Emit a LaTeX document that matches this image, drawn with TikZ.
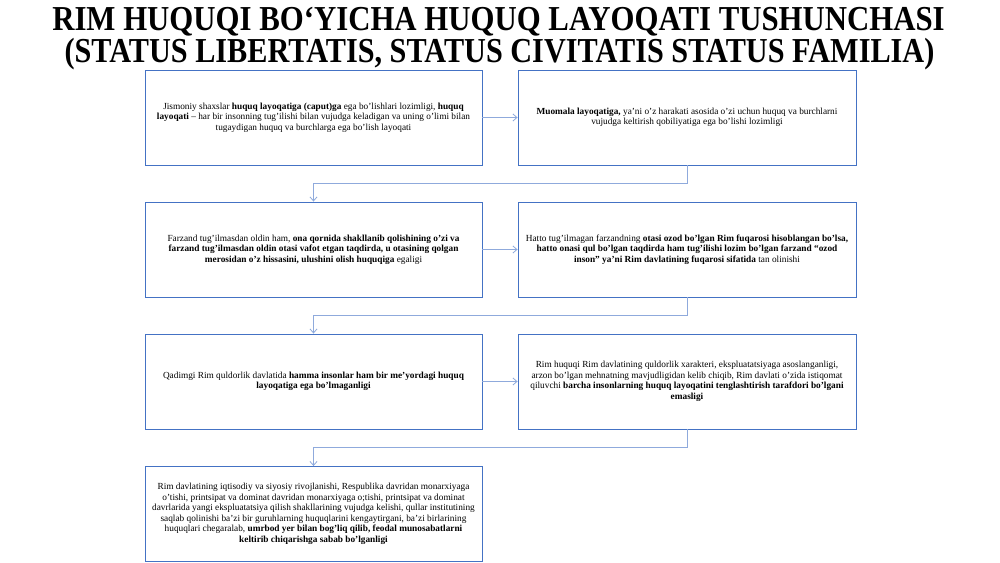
\documentclass[tikz,border=0pt]{standalone}
\usepackage{fontspec}
\setmainfont{Liberation Serif}
\usetikzlibrary{arrows.meta}
\definecolor{boxblue}{HTML}{4472C4}
\definecolor{connblue}{HTML}{8FAADC}
\begin{document}
\begin{tikzpicture}[x=1pt,y=-1pt,
  box/.style={draw=boxblue, line width=0.9pt, minimum width=337pt, minimum height=95pt,
    inner sep=0pt, align=center, font=\fontsize{9.3}{10.5}\selectfont},
  rbox/.style={box, minimum width=338pt},
  conn/.style={draw=connblue, line width=0.8pt, -{Straight Barb[length=4pt,width=7pt]}},
  ttl/.style={font=\fontsize{35}{35}\bfseries\selectfont, inner sep=0pt, anchor=base}]
\useasboundingbox[fill=white] (0,0) rectangle (1000,562);

\node[ttl] (t1) at (498.5,30) {\scalebox{0.88}[1]{RIM HUQUQI BO‘YICHA HUQUQ LAYOQATI TUSHUNCHASI}};
\node[ttl] (t2) at (499.5,62.5) {\scalebox{0.864}[1]{(STATUS LIBERTATIS, STATUS CIVITATIS STATUS FAMILIA)}};

\node[box] (a1) at (313.5,117.5) {Jismoniy shaxslar \textbf{huquq layoqatiga (caput)ga} ega bo’lishlari lozimligi, \textbf{huquq}\\
\textbf{layoqati} – har bir insonning tug’ilishi bilan vujudga keladigan va uning o’limi bilan\\
tugaydigan huquq va burchlarga ega bo’lish layoqati};
\node[rbox] (b1) at (687,117.5) {\textbf{Muomala layoqatiga,} ya’ni o’z harakati asosida o’zi uchun huquq va burchlarni\\
vujudga keltirish qobiliyatiga ega bo’lishi lozimligi};

\node[box] (a2) at (313.5,249.5) {Farzand tug’ilmasdan oldin ham, \textbf{ona qornida shakllanib qolishining o’zi va}\\
\textbf{farzand tug’ilmasdan oldin otasi vafot etgan taqdirda, u otasining qolgan}\\
\textbf{merosidan o’z hissasini, ulushini olish huquqiga} egaligi};
\node[rbox] (b2) at (687,249.5) {Hatto tug’ilmagan farzandning \textbf{otasi ozod bo’lgan Rim fuqarosi hisoblangan bo’lsa,}\\
\textbf{hatto onasi qul bo’lgan taqdirda ham tug’ilishi lozim bo’lgan farzand “ozod}\\
\textbf{inson” ya’ni Rim davlatining fuqarosi sifatida} tan olinishi};

\node[box] (a3) at (313.5,381.5) {Qadimgi Rim quldorlik davlatida \textbf{hamma insonlar ham bir me’yordagi huquq}\\
\textbf{layoqatiga ega bo’lmaganligi}};
\node[rbox] (b3) at (687,381.5) {Rim huquqi Rim davlatining quldorlik xarakteri, ekspluatatsiyaga asoslanganligi,\\
arzon bo’lgan mehnatning mavjudligidan kelib chiqib, Rim davlati o’zida istiqomat\\
qiluvchi \textbf{barcha insonlarning huquq layoqatini tenglashtirish tarafdori bo’lgani}\\
\textbf{emasligi}};

\node[box] (a4) at (313.5,514) {Rim davlatining iqtisodiy va siyosiy rivojlanishi, Respublika davridan monarxiyaga\\
o’tishi, printsipat va dominat davridan monarxiyaga o;tishi, printsipat va dominat\\
davrlarida yangi ekspluatatsiya qilish shakllarining vujudga kelishi, qullar institutining\\
saqlab qolinishi ba’zi bir guruhlarning huquqlarini kengaytirgani, ba’zi birlarining\\
huquqlari chegaralab, \textbf{umrbod yer bilan bog’liq qilib, feodal munosabatlarni}\\
\textbf{keltirib chiqarishga sabab bo’lganligi}};

\draw[conn] (a1.east) -- (b1.west);
\draw[conn] (a2.east) -- (b2.west);
\draw[conn] (a3.east) -- (b3.west);
\draw[conn] (b1.south) -- ++(0,18) -| (a2.north);
\draw[conn] (b2.south) -- ++(0,18) -| (a3.north);
\draw[conn] (b3.south) -- ++(0,18) -| (a4.north);
\end{tikzpicture}
\end{document}
